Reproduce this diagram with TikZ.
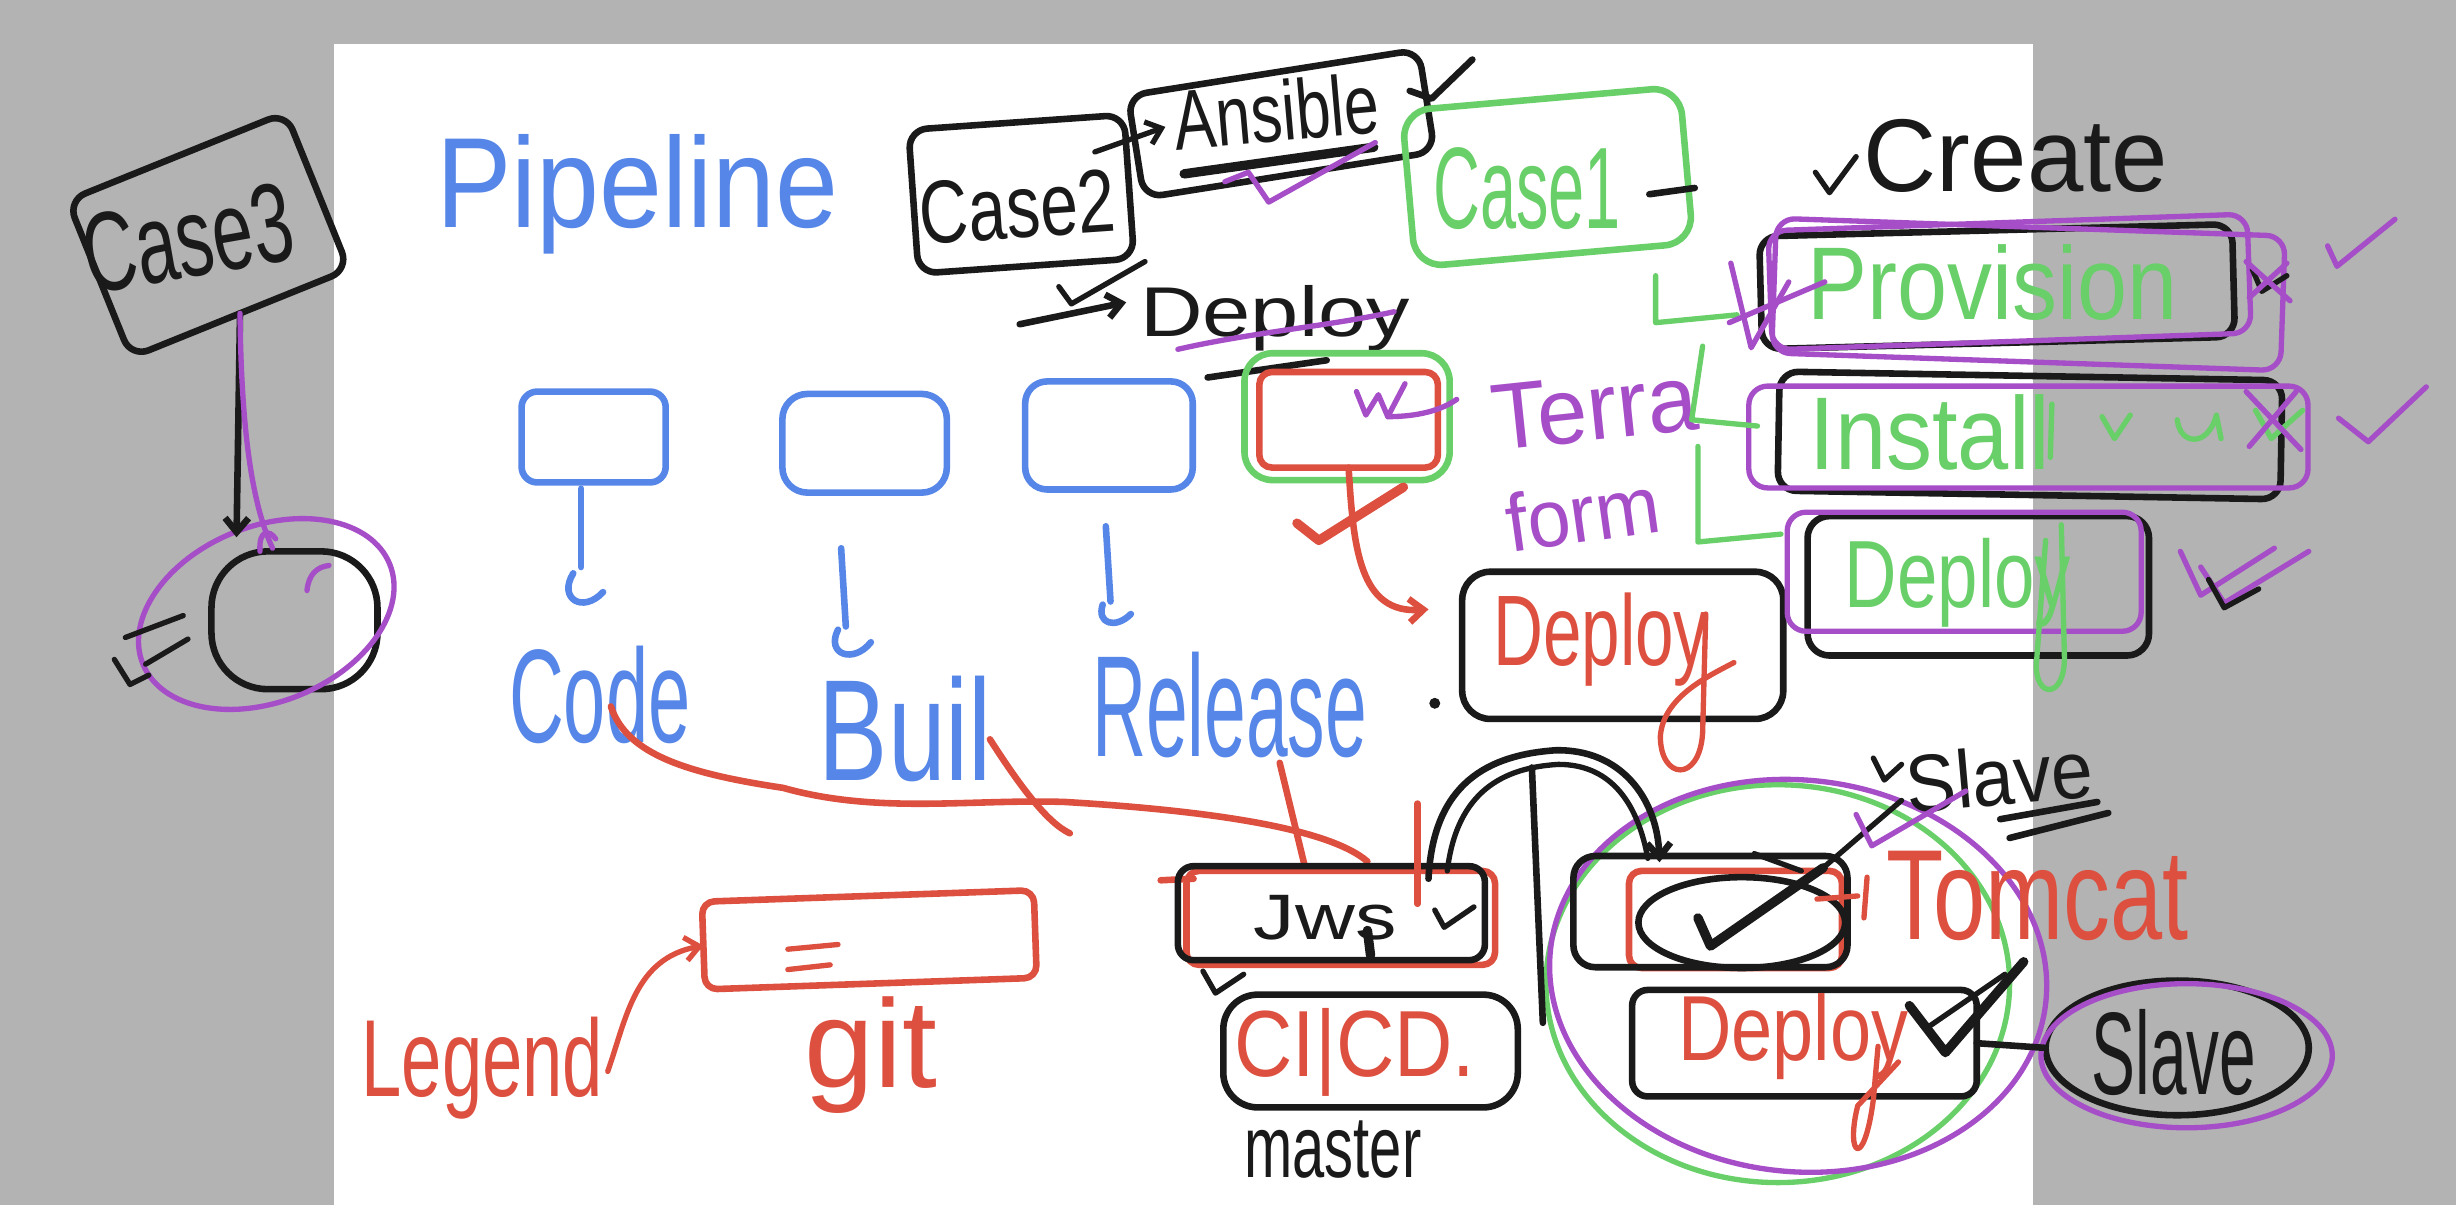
\documentclass[tikz,border=0pt]{standalone}
\usepackage{fontspec}
\usepackage{graphicx}
\setmainfont{Liberation Sans}
\usetikzlibrary{arrows.meta,shapes.geometric,calc}
\definecolor{bk}{RGB}{26,26,26}
\definecolor{bl}{RGB}{85,134,232}
\definecolor{rd}{RGB}{221,80,64}
\definecolor{gn}{RGB}{105,207,105}
\definecolor{pu}{RGB}{166,77,200}
\definecolor{bgray}{RGB}{179,179,179}
\newcommand\hwf[1]{\fontsize{#1}{#1}\selectfont}
\newcommand\sq[2]{\scalebox{#1}[1]{#2}}
\tikzset{
 ink/.style={line width=4.2pt,line cap=round,line join=round},
 fine/.style={line width=3.4pt,line cap=round,line join=round},
 heavy/.style={line width=6pt,line cap=round,line join=round},
 bx/.style={ink,rounded corners=12pt,inner sep=0pt,outer sep=0pt},
 ring/.style={fine,ellipse,inner sep=0pt,outer sep=0pt},
 lbl/.style={inner sep=0pt,outer sep=0pt},
 barb/.style={-{Straight Barb[length=9pt,width=15pt]}},
}
\begin{document}
\begin{tikzpicture}[x=1pt,y=-1pt]
\useasboundingbox (0,0) rectangle (1568,769);
\fill[bgray] (0,0) rectangle (1568,769);
\fill[white] (213,28) rectangle (1298,769);

% ---------- Case 3
\node[bx,draw=bk,rotate=22,minimum width=150pt,minimum height=108pt] (case3) at (133,150) {};
\node[lbl,rotate=10,text=bk,font=\hwf{72}] (case3t) at (120,152) {\sq{0.65}{Case3}};
\node[bx,draw=bk,rounded corners=36pt,minimum width=106pt,minimum height=88pt] (oval) at (188,396) {};
\node[ring,draw=pu,rotate=22,minimum width=170pt,minimum height=112pt] (ovalring) at (170,392) {};
\coordinate (c3end) at (151,343);
\draw[ink,draw=bk,barb] (case3.south) -- (c3end);
\draw[fine,draw=pu] (case3.south) .. controls (154,270) and (160,320) .. (174,350);
\draw[fine,draw=pu] (166,352) .. controls (165,338) and (172,338) .. (176,344);
\draw[fine,draw=pu] (196,377) .. controls (197,367) and (202,362) .. (210,361);
\draw[fine,draw=bk] (73,421) -- (83,437) -- (95,431);
\draw[fine,draw=bk] (80,407) -- (117,393);
\draw[fine,draw=bk] (93,424) -- (120,408);

% ---------- Pipeline title
\node[lbl,anchor=base,text=bl,font=\hwf{82}] (pipe) at (407,145) {\sq{0.88}{Pipeline}};

% ---------- Case 2 / Ansible
\node[bx,draw=bk,rotate=4,minimum width=138pt,minimum height=92pt] (case2) at (652,124) {};
\node[lbl,rotate=4,anchor=base,text=bk,font=\hwf{57}] (case2t) at (651,152) {\sq{0.76}{Case2}};
\node[bx,draw=bk,rotate=9,minimum width=188pt,minimum height=66pt] (ansible) at (818,79) {};
\node[lbl,rotate=5,text=bk,font=\hwf{54}] (ansiblet) at (815,71) {\sq{0.74}{Ansible}};
\coordinate (arrA) at (699,97);
\coordinate (arrB) at (744,81);
\draw[fine,draw=bk,barb] (arrA) -- (arrB);
\draw[heavy,draw=bk] (756,111) -- (877,94);
\draw[ink,draw=bk] (900,58) -- (914,63) -- (940,38);
\draw[fine,draw=pu] (782,116) -- (797,110) -- (810,129) -- (878,91);

% ---------- Deploy under Case 2
\coordinate (dA) at (651,207);
\coordinate (dB) at (719,193);
\draw[ink,draw=bk,barb] (dA) -- (dB);
\draw[fine,draw=bk] (676,183) -- (684,194) -- (731,167);
\node[lbl,anchor=base,text=bk,font=\hwf{45}] (deployk) at (814,215) {\sq{1.23}{Deploy}};
\draw[fine,draw=pu] (752,223) .. controls (800,212) and (850,208) .. (890,199);
\draw[ink,draw=bk] (771,241) -- (847,230);

% ---------- Case 1
\node[bx,draw=gn,rotate=5,rounded corners=18pt,minimum width=178pt,minimum height=100pt] (case1) at (988,113) {};
\node[lbl,anchor=base,text=gn,font=\hwf{74}] (case1t) at (975,146) {\sq{0.56}{Case1}};
\draw[ink,draw=bk] (1053,124) -- (1082,120);

% ---------- Pipeline stage boxes
\node[bx,draw=bl,rounded corners=10pt,minimum width=92pt,minimum height=58pt] (b1) at (379,279) {};
\node[bx,draw=bl,rounded corners=16pt,minimum width=105pt,minimum height=63pt] (b2) at (552,283) {};
\node[bx,draw=bl,rounded corners=14pt,minimum width=107pt,minimum height=69pt] (b3) at (708,278) {};
\node[bx,draw=gn,rounded corners=18pt,minimum width=131pt,minimum height=81pt] (g4) at (860,266) {};
\node[bx,draw=rd,rounded corners=8pt,minimum width=114pt,minimum height=61pt] (b4) at (861,268) {};
\draw[fine,draw=pu] (866,250) -- (872,265) -- (880,252) -- (886,266) -- (897,245);
\draw[fine,draw=pu] (886,266) .. controls (905,266) and (920,262) .. (930,255);

% arrows below the stage boxes
\draw[ink,draw=bl] (b1.south) ++(-8,4) -- (371,362);
\draw[ink,draw=bl] (366,366) .. controls (356,382) and (372,392) .. (385,378);
\coordinate (b2a) at (537,350);
\draw[ink,draw=bl] (b2a) -- (540,400);
\draw[ink,draw=bl] (535,402) .. controls (527,418) and (545,424) .. (556,410);
\coordinate (b3a) at (706,336);
\draw[ink,draw=bl] (b3a) -- (709,384);
\draw[ink,draw=bl] (704,386) .. controls (700,398) and (712,402) .. (722,392);

% stage labels
\node[lbl,anchor=base,text=bl,font=\hwf{85}] (code) at (383,474) {\sq{0.57}{Code}};
\node[lbl,anchor=base,text=bl,font=\hwf{92}] (buil) at (578,498) {\sq{0.72}{Buil}};
\node[lbl,anchor=base,text=bl,font=\hwf{92}] (release) at (785,483) {\sq{0.52}{Release}};

% ---------- Terraform
\node[lbl,anchor=base,rotate=6,text=pu,font=\hwf{60}] (terra) at (1020,281) {\sq{0.96}{Terra}};
\node[lbl,anchor=base,rotate=8,text=pu,font=\hwf{52}] (form) at (1013,346) {\sq{0.95}{form}};

% ---------- Deploy (middle)
\node[bx,draw=bk,rounded corners=18pt,minimum width=205pt,minimum height=94pt] (depm) at (1036,412) {};
\node[lbl,anchor=base,text=rd,font=\hwf{64}] (depmt) at (1022,425) {\sq{0.69}{Deploy}};
\draw[fine,draw=rd] (1089,392) -- (1087,468) .. controls (1085,500) and (1060,498) .. (1060,470) .. controls (1062,445) and (1090,432) .. (1107,423);
\coordinate (depmIn) at (912,389);
\draw[ink,draw=rd,barb] (b4.south) .. controls (864,350) and (868,392) .. (depmIn);
\draw[heavy,draw=rd] (828,334) -- (842,345) -- (896,311);
\fill[bk] (916,449) circle (3.5pt);

% ---------- Create column
\draw[fine,draw=bk] (1159,110) -- (1168,123) -- (1185,100);
\node[lbl,anchor=base,text=bk,font=\hwf{66}] (create) at (1287,122) {\sq{0.98}{Create}};

\node[bx,draw=bk,rotate=1.5,minimum width=302pt,minimum height=72pt] (prov) at (1275,183) {};
\node[bx,draw=pu,line width=3.4pt,rotate=2,minimum width=306pt,minimum height=76pt] (provp) at (1283,180) {};
\node[bx,draw=pu,line width=3.4pt,rotate=-2,minimum width=325pt,minimum height=86pt] (provq) at (1295,188) {};
\node[lbl,anchor=base,text=gn,font=\hwf{66}] (provt) at (1272,204) {\sq{0.87}{Provision}};

\node[bx,draw=bk,rotate=-1,minimum width=321pt,minimum height=76pt] (inst) at (1296,278) {};
\node[bx,draw=pu,line width=3.4pt,minimum width=357pt,minimum height=65pt] (instp) at (1295,279) {};
\node[lbl,anchor=base,text=gn,font=\hwf{66}] (instt) at (1232,300) {\sq{0.89}{Install}};

\node[bx,draw=bk,rounded corners=14pt,minimum width=218pt,minimum height=89pt] (depr) at (1263,374) {};
\node[bx,draw=pu,line width=3.4pt,minimum width=226pt,minimum height=76pt] (deprp) at (1254,365) {};
\node[lbl,anchor=base,text=gn,font=\hwf{61}] (deprt) at (1250,388) {\sq{0.76}{Deploy}};
\draw[fine,draw=gn] (1306,345) -- (1300,425) .. controls (1300,446) and (1318,446) .. (1318,420) -- (1316,335);

% green tree lines
\draw[fine,draw=gn] (1057,176) -- (1057,206) -- (1109,201);
\draw[fine,draw=gn] (1087,221) -- (1080,268) -- (1122,272);
\draw[fine,draw=gn] (1084,285) -- (1084,346) -- (1137,341);

% green scribbles after Install
\draw[fine,draw=gn] (1310,258) -- (1309,292);
\draw[fine,draw=gn] (1342,266) -- (1350,280) -- (1360,265);
\draw[fine,draw=gn] (1390,268) .. controls (1392,285) and (1410,285) .. (1415,265) -- (1418,280);
\draw[fine,draw=gn] (1440,262) -- (1450,280) -- (1470,262);

% purple / black ticks, right column
\draw[fine,draw=pu] (1105,168) -- (1118,222) -- (1142,180);
\draw[fine,draw=pu] (1104,206) -- (1165,180);
\draw[fine,draw=bk] (1438,172) -- (1444,186) -- (1460,176);
\draw[fine,draw=pu] (1434,167) -- (1462,192);
\draw[fine,draw=pu] (1436,190) -- (1460,168);
\draw[fine,draw=pu] (1486,157) -- (1492,170) -- (1529,140);
\draw[fine,draw=pu] (1434,250) -- (1469,287);
\draw[fine,draw=pu] (1436,285) -- (1466,250);
\draw[fine,draw=pu] (1493,267) -- (1512,282) -- (1549,247);
\draw[fine,draw=pu] (1392,352) -- (1405,380) -- (1452,350);
\draw[fine,draw=pu] (1405,362) -- (1420,385) -- (1474,352);
\draw[fine,draw=bk] (1410,370) -- (1420,388) -- (1442,376);

% ---------- Legend / git
\node[bx,draw=rd,rotate=2,rounded corners=8pt,minimum width=212pt,minimum height=56pt] (gitbox) at (555,600) {};
\draw[fine,draw=rd] (503,606) -- (535,603);
\draw[fine,draw=rd] (503,619) -- (530,616);
\node[lbl,anchor=base,text=rd,font=\hwf{80}] (gitt) at (556,694) {\sq{1.0}{git}};
\node[lbl,anchor=base,text=rd,font=\hwf{70}] (legend) at (308,700) {\sq{0.66}{Legend}};
\draw[fine,draw=rd,barb] (388,684) .. controls (400,650) and (405,612) .. (gitbox.west);

% ---------- red strokes across labels
\coordinate (codeR) at (390,451);
\draw[ink,draw=rd] (codeR) .. controls (400,482) and (440,494) .. (500,503) .. controls (560,520) and (620,510) .. (680,512) .. controls (780,518) and (850,530) .. (873,550);
\draw[ink,draw=rd] (632,472) .. controls (650,500) and (668,525) .. (683,532);
\draw[ink,draw=rd] (817,487) -- (833,553);

% ---------- Jenkins / CI|CD
\node[bx,draw=rd,rounded corners=8pt,minimum width=197pt,minimum height=60pt] (jenr) at (856,586) {};
\draw[ink,draw=rd] (741,562) -- (762,561);
\node[bx,draw=bk,rounded corners=10pt,minimum width=196pt,minimum height=60pt] (jen) at (850,583) {};
\draw[ink,draw=rd] (905,513) -- (905,577);
\node[lbl,anchor=base,text=bk,font=\hwf{41}] (jent) at (846,600) {\sq{1.29}{Jws}};
\draw[fine,draw=bk] (916,581) -- (922,592) -- (941,579);
\draw[heavy,draw=bk] (873,594) -- (875,610);
\draw[fine,draw=bk] (768,620) -- (776,634) -- (794,622);

\node[bx,draw=bk,rounded corners=22pt,minimum width=188pt,minimum height=72pt] (cicd) at (875,671) {};
\node[lbl,anchor=base,text=rd,font=\hwf{60}] (cicdt) at (865,687) {\sq{0.86}{CI|CD.}};
\node[lbl,anchor=base,text=bk,font=\hwf{56}] (master) at (851,752) {\sq{0.66}{master}};

% ---------- green / purple circle cluster
\node[ring,draw=gn,minimum width=296pt,minimum height=254pt] (gcirc) at (1135,628) {};
\node[ring,draw=pu,rotate=-6,minimum width=318pt,minimum height=250pt] (pcirc) at (1148,623) {};

% Tomcat box
\node[bx,draw=rd,rounded corners=8pt,minimum width=136pt,minimum height=62pt] (tomr) at (1108,587) {};
\node[bx,draw=bk,rounded corners=14pt,minimum width=175pt,minimum height=71pt] (tom) at (1092,582) {};
\node[ring,draw=bk,line width=4.2pt,minimum width=132pt,minimum height=58pt] (tomE) at (1112,589) {};
\draw[heavy,draw=bk] (1084,586) -- (1092,604) -- (1164,554);
\draw[fine,draw=bk] (1120,545) -- (1150,556);
\draw[fine,draw=rd] (1160,574) -- (1186,572);
\draw[fine,draw=rd] (1192,560) -- (1190,586);
\node[lbl,anchor=base,text=rd,font=\hwf{82}] (tomt) at (1301,600) {\sq{0.73}{Tomcat}};

% arc from Jenkins to Tomcat
\coordinate (arcS) at ($(jen.north east)+(-36,8)$);
\coordinate (arcE) at ($(tom.north west)+(55,4)$);
\draw[ink,draw=bk,barb] (arcS) .. controls (915,500) and (950,482) .. (993,479) .. controls (1035,478) and (1058,510) .. (arcE);
\draw[fine,draw=bk] (924,556) .. controls (930,505) and (960,490) .. (995,488) .. controls (1030,488) and (1046,515) .. (1052,548);
\draw[ink,draw=bk] (978,490) -- (985,653);

% top Slave label
\draw[fine,draw=bk] (1196,484) -- (1203,498) -- (1214,488);
\node[lbl,anchor=base,rotate=5,text=bk,font=\hwf{52}] (slavet) at (1278,514) {\sq{0.92}{Slave}};
\draw[ink,draw=bk] (1277,523) -- (1339,512);
\draw[ink,draw=bk] (1283,535) -- (1346,519);
\coordinate (chk) at (1164,554);
\draw[fine,draw=bk] (chk) -- (1214,511);
\draw[fine,draw=pu] (1185,520) -- (1195,540) -- (1255,505);

% bottom Deploy
\node[bx,draw=bk,rounded corners=10pt,minimum width=220pt,minimum height=68pt] (depb) at (1152,666) {};
\node[lbl,anchor=base,text=rd,font=\hwf{59}] (depbt) at (1145,677) {\sq{0.8}{Deploy}};
\draw[fine,draw=rd] (1199,668) -- (1196,702) .. controls (1190,748) and (1178,738) .. (1186,706) -- (1212,678);
\draw[heavy,draw=bk] (1219,642) -- (1242,672) -- (1292,614);
\draw[fine,draw=bk] (1232,655) -- (1280,622);

% Slave
\node[ring,draw=bk,line width=4.2pt,minimum width=168pt,minimum height=86pt] (slaveE) at (1390,669) {};
\node[ring,draw=pu,minimum width=186pt,minimum height=92pt] (slaveP) at (1396,674) {};
\node[lbl,anchor=base,text=bk,font=\hwf{75}] (slavet2) at (1388,699) {\sq{0.56}{Slave}};
\draw[ink,draw=bk] (depb.east) -- (slaveE.west);
\end{tikzpicture}
\end{document}
